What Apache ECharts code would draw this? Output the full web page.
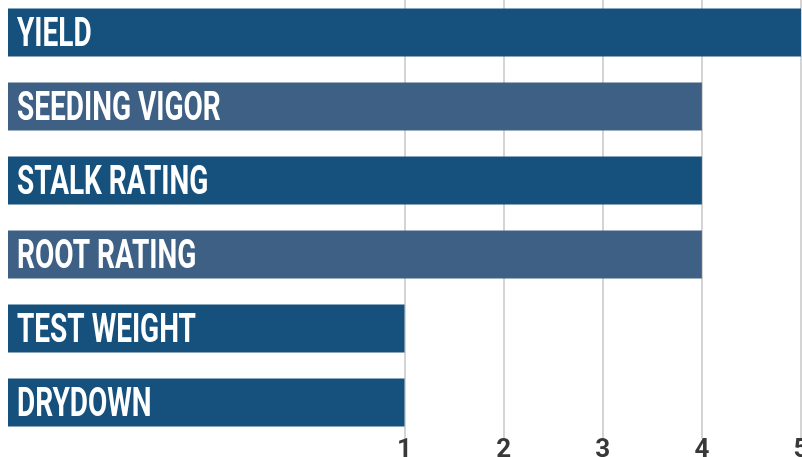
<!DOCTYPE html>
<html>
<head>
<meta charset="utf-8">
<script src="https://cdn.jsdelivr.net/npm/echarts@6/dist/echarts.min.js"></script>
<style>
  html, body { margin: 0; padding: 0; background: #fff; }
  #chart { width: 802px; height: 457px; }
</style>
</head>
<body>
<div id="chart"></div>
<script>
  const categories = ["YIELD", "SEEDING VIGOR", "STALK RATING", "ROOT RATING", "TEST WEIGHT", "DRYDOWN"];
  const ratings = [5, 4, 4, 4, 1, 1];
  const barColors = ["#15517c", "#3e6085", "#15517c", "#3e6085", "#15517c", "#15517c"];
  const tickLabels = ["1", "2", "3", "4", "5"];

  // bars start at rating -3 (left edge), shown scale runs 1..5
  const scaleBase = -3;
  const scaleTop = 5;
  const gridColors = [];
  for (let v = scaleBase; v <= scaleTop; v++) {
    gridColors.push(v >= 1 ? "#a9a9a9" : "rgba(0,0,0,0)");
  }

  const chart = echarts.init(document.getElementById("chart"));
  chart.setOption({
    animation: false,
    grid: { left: 8, right: 1, top: -4.5, bottom: 17.5, outerBoundsMode: "none", containLabel: false },
    xAxis: {
      type: "value",
      min: 0,
      max: scaleTop - scaleBase,
      interval: 1,
      axisLine: { show: false },
      axisTick: { show: false },
      axisLabel: {
        margin: -2,
        color: "#383838",
        fontSize: 26,
        fontWeight: "bold",
        fontFamily: "Roboto, sans-serif",
        formatter: (v) => {
          const r = v + scaleBase;
          return r >= 1 ? tickLabels[r - 1] : "";
        },
      },
      splitLine: {
        show: true,
        lineStyle: { type: [1, 1], width: 2, color: gridColors },
      },
    },
    yAxis: {
      type: "category",
      data: categories,
      inverse: true,
      axisLine: { show: false },
      axisTick: { show: false },
      axisLabel: { show: false },
    },
    series: [
      {
        type: "bar",
        data: ratings.map((v, i) => ({ value: v - scaleBase, itemStyle: { color: barColors[i] } })),
        barWidth: 48,
      },
      {
        // condensed white titles inside the bars
        type: "custom",
        silent: true,
        data: categories.map((c, i) => [0, i]),
        encode: { x: 0, y: 1 },
        renderItem: (params, api) => {
          const pt = api.coord([0, api.value(1)]);
          return {
            type: "text",
            x: pt[0] + 9,
            y: pt[1] + 3,
            scaleX: 0.7,
            style: {
              text: categories[params.dataIndex],
              fill: "#fff",
              fontSize: 40,
              fontWeight: "bold",
              fontFamily: "Roboto, sans-serif",
              align: "left",
              verticalAlign: "middle",
            },
          };
        },
        z: 5,
      },
    ],
  });
</script>
</body>
</html>
